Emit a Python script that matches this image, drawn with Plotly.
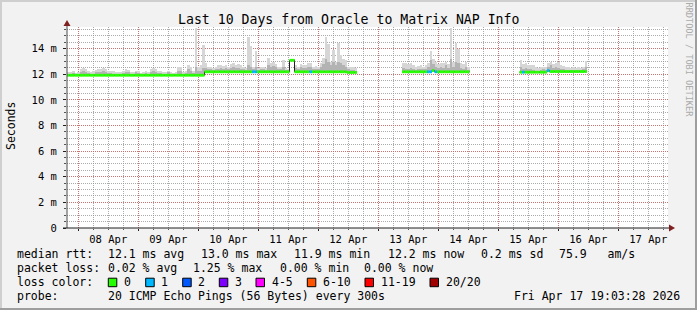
import plotly.graph_objects as go
import pandas as pd

# ---------------- data ----------------
title_text = "Last 10 Days from Oracle to Matrix NAP Info"
range_start = "2026-04-07 19:30"
range_end = "2026-04-17 19:54"
day_starts = ["2026-04-08", "2026-04-09", "2026-04-10", "2026-04-11", "2026-04-12",
              "2026-04-13", "2026-04-14", "2026-04-15", "2026-04-16", "2026-04-17"]
day_labels = ["08 Apr", "09 Apr", "10 Apr", "11 Apr", "12 Apr",
              "13 Apr", "14 Apr", "15 Apr", "16 Apr", "17 Apr"]
y_ticks = [0, 2, 4, 6, 8, 10, 12, 14]
y_ticktext = ["0", "2 m", "4 m", "6 m", "8 m", "10 m", "12 m", "14 m"]
y_top = 15.7

# hourly bins, three measured segments (values in ms)
seg_starts = ["2026-04-07 19:30", "2026-04-13 09:30", "2026-04-15 08:30"]

median_1 = [11.93, 11.93, 11.93, 11.93, 11.93, 11.93, 11.93, 11.93, 11.93, 11.93,
            11.93, 11.93, 11.93, 11.93, 11.93, 11.93, 11.93, 11.93, 11.93, 11.93,
            11.93, 11.93, 11.93, 11.93, 11.93, 11.93, 11.93, 11.93, 11.93, 11.93,
            11.93, 11.93, 11.93, 11.93, 11.93, 11.93, 11.93, 11.93, 11.93, 11.93,
            11.93, 11.93, 11.93, 11.93, 11.93, 11.93, 11.93, 11.93, 11.93, 11.93,
            11.93, 11.93, 11.93, 11.93, 11.93, 12.2, 12.2, 12.2, 12.2, 12.2,
            12.2, 12.2, 12.2, 12.2, 12.2, 12.2, 12.2, 12.2, 12.2, 12.2,
            12.2, 12.2, 12.2, 12.2, 12.2, 12.2, 12.2, 12.2, 12.2, 12.2,
            12.2, 12.2, 12.2, 12.2, 12.2, 12.2, 12.2, 12.2, 12.2, 13.1,
            13.1, 12.2, 12.2, 12.2, 12.2, 12.2, 12.2, 12.2, 12.2, 12.2,
            12.2, 12.2, 12.2, 12.2, 12.2, 12.2, 12.2, 12.2, 12.2, 12.2,
            12.2, 12.2, 12.15, 12.15, 12.15, 12.15]
smoke_max_1 = [12.15, 12.2, 12.25, 12.1, 12.15, 12.4, 12.5, 12.45, 12.3, 12.2,
               12.25, 12.35, 12.45, 12.4, 12.5, 12.45, 12.3, 12.3, 12.25, 12.2,
               12.2, 12.15, 12.3, 12.4, 12.35, 12.2, 12.15, 12.3, 12.25, 12.1,
               12.2, 12.25, 12.15, 12.45, 12.5, 12.4, 12.3, 12.25, 12.2, 12.2,
               12.3, 12.15, 12.1, 12.2, 12.6, 12.55, 12.2, 12.25, 12.75, 12.6,
               12.3, 15.6, 12.6, 12.7, 14.3, 12.9, 12.6, 12.55, 12.5, 12.6,
               12.7, 12.75, 12.65, 12.7, 12.6, 12.8, 12.85, 12.75, 12.8, 12.7,
               12.6, 12.5, 14.9, 14.25, 12.6, 13.8, 12.5, 12.55, 12.6, 12.5,
               13.3, 12.9, 13.0, 12.8, 12.6, 12.55, 13.1, 12.5, 12.45, 13.2,
               13.15, 12.7, 12.6, 12.8, 12.75, 12.7, 12.9, 12.85, 12.6, 12.65,
               12.6, 12.9, 13.3, 14.9, 14.4, 13.0, 13.9, 13.0, 14.45, 13.5,
               13.2, 13.1, 12.6, 12.55, 12.55, 12.5]
smoke_mid_1 = [12.0, 12.05, 12.1, 12.0, 12.0, 12.15, 12.25, 12.2, 12.1, 12.05,
               12.05, 12.15, 12.2, 12.2, 12.25, 12.2, 12.1, 12.1, 12.05, 12.05,
               12.05, 12.0, 12.1, 12.2, 12.15, 12.05, 12.0, 12.15, 12.1, 12.0,
               12.05, 12.1, 12.0, 12.2, 12.3, 12.2, 12.1, 12.1, 12.05, 12.05,
               12.15, 12.0, 12.0, 12.05, 12.3, 12.25, 12.05, 12.1, 12.4, 12.3,
               12.1, 12.6, 12.3, 12.3, 12.5, 12.5, 12.4, 12.45, 12.35, 12.4,
               12.45, 12.5, 12.45, 12.5, 12.4, 12.5, 12.55, 12.5, 12.5, 12.45,
               12.4, 12.35, 12.7, 12.6, 12.4, 12.6, 12.35, 12.4, 12.45, 12.35,
               12.7, 12.6, 12.65, 12.55, 12.4, 12.4, 12.6, 12.35, 12.35, 13.15,
               13.15, 12.5, 12.4, 12.55, 12.5, 12.5, 12.6, 12.6, 12.45, 12.45,
               12.4, 12.6, 12.8, 13.2, 13.0, 12.7, 13.0, 12.7, 13.0, 12.9,
               12.7, 12.6, 12.4, 12.35, 12.35, 12.3]
loss_1 = [0, 0, 0, 0, 0, 0, 0, 0, 0, 0,
          0, 0, 0, 0, 0, 0, 0, 0, 0, 0,
          0, 0, 0, 0, 0, 0, 0, 0, 0, 0,
          0, 0, 0, 0, 0, 0, 0, 0, 0, 0,
          0, 0, 0, 0, 0, 0, 0, 0, 0, 0,
          0, 0, 0, 0, 0, 0, 0, 0, 0, 0,
          0, 0, 0, 0, 0, 0, 0, 0, 0, 0,
          0, 0, 0, 0, 1, 1, 0, 0, 0, 0,
          0, 0, 0, 0, 0, 0, 0, 0, 0, 0,
          0, 0, 0, 0, 0, 0, 0, 1, 0, 0,
          0, 0, 0, 0, 0, 0, 0, 0, 0, 0,
          0, 0, 0, 0, 0, 0]

median_2 = [12.2, 12.2, 12.2, 12.2, 12.2, 12.2, 12.2, 12.2, 12.2, 12.2,
            12.2, 12.2, 12.3, 12.2, 12.2, 12.2, 12.2, 12.2, 12.2, 12.2,
            12.2, 12.2, 12.2, 12.2, 12.2, 12.2, 12.2]
smoke_max_2 = [12.9, 12.85, 12.8, 12.85, 12.7, 12.6, 12.65, 12.7, 12.6, 12.75,
               12.9, 13.8, 13.2, 13.0, 12.8, 12.9, 12.85, 13.0, 12.8, 15.6,
               13.0, 14.45, 14.0, 12.9, 12.8, 13.0, 12.6]
smoke_mid_2 = [12.5, 12.45, 12.4, 12.5, 12.4, 12.35, 12.4, 12.45, 12.4, 12.45,
               12.55, 13.1, 12.8, 12.6, 12.5, 12.55, 12.5, 12.75, 12.5, 13.2,
               12.6, 13.0, 12.9, 12.5, 12.45, 12.55, 12.35]
loss_2 = [0, 0, 0, 0, 0, 0, 0, 0, 0, 0,
          1, 1, 0, 1, 0, 0, 0, 0, 0, 0,
          0, 0, 0, 0, 0, 0, 0]

median_3 = [12.17, 12.17, 12.17, 12.17, 12.17, 12.17, 12.17, 12.17, 12.17, 12.17,
            12.17, 12.3, 12.22, 12.22, 12.22, 12.22, 12.22, 12.22, 12.22, 12.22,
            12.22, 12.22, 12.22, 12.22, 12.22, 12.22, 12.22]
smoke_max_3 = [13.1, 12.8, 12.85, 12.75, 12.75, 12.7, 12.55, 12.5, 12.55, 12.6,
               12.55, 12.85, 13.0, 12.8, 12.85, 12.95, 12.7, 12.65, 12.6, 12.55,
               12.5, 12.55, 12.5, 12.55, 12.5, 12.6, 13.05]
smoke_mid_3 = [12.6, 12.45, 12.5, 12.4, 12.45, 12.35, 12.3, 12.3, 12.35, 12.4,
               12.35, 12.6, 12.7, 12.5, 12.55, 12.5, 12.45, 12.4, 12.35, 12.35,
               12.3, 12.35, 12.3, 12.35, 12.3, 12.4, 12.6]
loss_3 = [0, 1, 0, 0, 0, 0, 0, 0, 0, 0,
          0, 1, 0, 0, 0, 0, 0, 0, 0, 0,
          0, 0, 0, 0, 0, 0, 0]

loss_labels = ["0", "1", "2", "3", "4-5", "6-10", "11-19", "20/20"]
loss_palette = ["#26ff00", "#00b8ff", "#0059ff", "#7e00ff", "#ff00ff", "#ff5500", "#ff0000", "#a10000"]

rtt_items = ["median rtt:", "12.1 ms avg", "13.0 ms max", "11.9 ms min", "12.2 ms now", "0.2 ms sd", "75.9   am/s"]
loss_items = ["packet loss:", "0.02 % avg", "1.25 % max", "0.00 % min", "0.00 % now"]
probe_label = "probe:"
probe_text = "20 ICMP Echo Pings (56 Bytes) every 300s"
stamp_text = "Fri Apr 17 19:03:28 2026"
side_text = "RRDTOOL / TOBI OETIKER"

# ---------------- geometry / style ----------------
FIG_W, FIG_H = 697, 310
ML, MR, MT, MB = 67, 29, 27, 82
PW = FIG_W - ML - MR
PH = FIG_H - MT - MB
MONO = "DejaVu Sans Mono"
HOUR_MS = 3600 * 1000


def fx(px):
    return (px - ML) / PW


def fy(py):
    return (MT + PH - py) / PH


fig = go.Figure()

segments = [
    (seg_starts[0], median_1, smoke_max_1, smoke_mid_1, loss_1),
    (seg_starts[1], median_2, smoke_max_2, smoke_mid_2, loss_2),
    (seg_starts[2], median_3, smoke_max_3, smoke_mid_3, loss_3),
]

# smoke (distribution of pings above the median)
for start, med, smax, smid, loss in segments:
    t = pd.date_range(start, periods=len(med), freq="h")
    fig.add_trace(go.Bar(x=t, base=med, y=[a - b for a, b in zip(smax, med)],
                         width=HOUR_MS, offset=0, marker=dict(color="#d6d6d6", line=dict(width=0)),
                         hoverinfo="skip", showlegend=False))
    fig.add_trace(go.Bar(x=t, base=med, y=[a - b for a, b in zip(smid, med)],
                         width=HOUR_MS, offset=0, marker=dict(color="#b3b3b3", line=dict(width=0)),
                         hoverinfo="skip", showlegend=False))

# thin dark median line (visible at the steps)
for start, med, smax, smid, loss in segments:
    t = pd.date_range(start, periods=len(med) + 1, freq="h")
    fig.add_trace(go.Scatter(x=t, y=list(med) + [med[-1]], mode="lines", line_shape="hv",
                             line=dict(color="#202020", width=1), hoverinfo="skip", showlegend=False))

# loss-coloured median band
for ci, col in enumerate(loss_palette):
    xs, ys = [], []
    for start, med, smax, smid, loss in segments:
        t = pd.date_range(start, periods=len(med) + 1, freq="h")
        for i, lv in enumerate(loss):
            if lv == ci:
                xs += [t[i], t[i + 1], None]
                ys += [med[i], med[i], None]
    if xs:
        fig.add_trace(go.Scatter(x=xs, y=ys, mode="lines", line=dict(color=col, width=2.8),
                                 hoverinfo="skip", showlegend=False, connectgaps=False))

# invisible trace to carry the label axis
fig.add_trace(go.Scatter(x=[range_start], y=[0], xaxis="x2", mode="markers",
                         marker=dict(opacity=0), hoverinfo="skip", showlegend=False))

GRID = "rgba(143,143,143,0.75)"
MGRID = "rgba(222,79,79,0.6)"
DOT = "1px,1px"

fig.update_layout(
    width=FIG_W, height=FIG_H,
    margin=dict(l=ML, r=MR, t=MT, b=MB, pad=0),
    paper_bgcolor="#F2F2F2", plot_bgcolor="#FFFFFF",
    barmode="overlay", bargap=0, showlegend=False, hovermode=False,
    font=dict(family=MONO, size=10, color="#000000"),
    xaxis=dict(type="date", range=[range_start, range_end], tickmode="array",
               tickvals=day_starts, showticklabels=False, ticks="outside", ticklen=2,
               tickcolor="#1f1f1f", showgrid=True, gridcolor=MGRID, griddash=DOT, gridwidth=1,
               minor=dict(dtick=6 * HOUR_MS, tick0="2026-04-08", showgrid=True, gridcolor=GRID,
                          griddash=DOT, gridwidth=1, ticks="outside", ticklen=1, tickcolor="#555"),
               showline=False, zeroline=False, fixedrange=True),
    xaxis2=dict(type="date", range=[range_start, range_end], overlaying="x", anchor="y", side="bottom",
                tickmode="array", tickvals=[d + " 12:00" for d in day_starts], ticktext=day_labels,
                showgrid=False, ticks="", showline=False, zeroline=False,
                tickfont=dict(family=MONO, size=10.5, color="#000000"), ticklabelstandoff=3),
    yaxis=dict(range=[0, y_top], tickmode="array", tickvals=y_ticks, ticktext=y_ticktext,
               ticks="outside", ticklen=3, tickcolor="#1f1f1f",
               tickfont=dict(family=MONO, size=10.5, color="#000000"), ticklabelstandoff=4,
               showgrid=True, gridcolor=MGRID, griddash=DOT, gridwidth=1,
               minor=dict(dtick=0.5, tick0=0, showgrid=True, gridcolor=GRID, griddash=DOT,
                          gridwidth=1, ticks="outside", ticklen=2, tickcolor="#555"),
               showline=False, zeroline=False, fixedrange=True),
)

shapes = []
# frame shading
shapes.append(dict(type="rect", xref="paper", yref="paper", x0=fx(0), x1=fx(FIG_W), y0=fy(2), y1=fy(0),
                   fillcolor="#CFCFCF", line=dict(width=0), layer="below"))
shapes.append(dict(type="rect", xref="paper", yref="paper", x0=fx(0), x1=fx(2), y0=fy(FIG_H), y1=fy(0),
                   fillcolor="#CFCFCF", line=dict(width=0), layer="below"))
shapes.append(dict(type="rect", xref="paper", yref="paper", x0=fx(FIG_W - 2), x1=fx(FIG_W), y0=fy(FIG_H), y1=fy(0),
                   fillcolor="#9E9E9E", line=dict(width=0), layer="below"))
shapes.append(dict(type="rect", xref="paper", yref="paper", x0=fx(0), x1=fx(FIG_W), y0=fy(FIG_H), y1=fy(FIG_H - 2),
                   fillcolor="#9E9E9E", line=dict(width=0), layer="below"))
# axes
shapes.append(dict(type="line", xref="paper", yref="paper", x0=fx(ML), x1=fx(ML), y0=fy(MT + PH), y1=fy(23),
                   line=dict(color="#4a4a4a", width=1)))
shapes.append(dict(type="line", xref="paper", yref="paper", x0=fx(63), x1=fx(671), y0=fy(MT + PH), y1=fy(MT + PH),
                   line=dict(color="#1f1f1f", width=1)))
# arrows
shapes.append(dict(type="path", xref="paper", yref="paper",
                   path=f"M {fx(ML)},{fy(20)} L {fx(ML - 3.5)},{fy(26)} L {fx(ML + 3.5)},{fy(26)} Z",
                   fillcolor="#801f1f", line=dict(width=0)))
shapes.append(dict(type="path", xref="paper", yref="paper",
                   path=f"M {fx(675)},{fy(MT + PH)} L {fx(669)},{fy(MT + PH - 3.5)} L {fx(669)},{fy(MT + PH + 3.5)} Z",
                   fillcolor="#801f1f", line=dict(width=0)))

annotations = []


def text_at(txt, px, py, size=11.5, anchor="left", color="#000000", angle=0):
    annotations.append(dict(text=txt, xref="paper", yref="paper", x=fx(px), y=fy(py),
                            xanchor=anchor, yanchor="middle", showarrow=False, textangle=angle,
                            font=dict(family=MONO, size=size, color=color), borderpad=0))


text_at(title_text, 348, 19.5, size=13.2, anchor="center")
text_at("Seconds", 11, 126, size=11.5, anchor="center", angle=-90)
text_at(side_text, 688.5, 60, size=8.6, anchor="center", color="#ABABAB", angle=90)

CW = 7.0
LX = 16
rtt_cols = [0, 13, 26.3, 39.5, 53, 66.3, 77.4]
for txt, c in zip(rtt_items, rtt_cols):
    text_at(txt, LX + CW * c, 254.3)
loss_cols = [0, 13, 25.2, 37.5, 49.5]
for txt, c in zip(loss_items, loss_cols):
    text_at(txt, LX + CW * c, 268.3)
text_at("loss color:", LX, 282.3)
box_x = [108.3, 145.7, 182.7, 219.3, 256.0, 307.3, 365.0, 430.0]
for lbl, col, bx in zip(loss_labels, loss_palette, box_x):
    shapes.append(dict(type="rect", xref="paper", yref="paper", x0=fx(bx), x1=fx(bx + 8.5),
                       y0=fy(286.7), y1=fy(278.2), fillcolor=col, line=dict(color="#000000", width=1)))
    text_at(lbl, bx + 14.5, 282.3)
text_at(probe_label, LX, 296.3)
text_at(probe_text, LX + CW * 13, 296.3)
text_at(stamp_text, 681, 296.3, anchor="right")

fig.update_layout(shapes=shapes, annotations=annotations)
fig.write_html("out.html")
